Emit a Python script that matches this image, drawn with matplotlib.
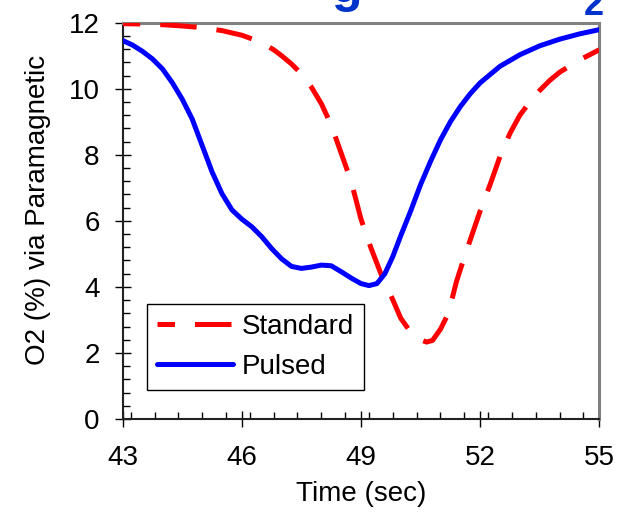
import matplotlib
matplotlib.use('Agg')
import matplotlib.pyplot as plt
from matplotlib.ticker import MultipleLocator

plt.rcParams['font.family'] = ['Liberation Sans', 'DejaVu Sans']

# ---- data ----
time_standard = [43.00, 43.50, 44.00, 44.50, 45.00, 45.50, 46.00, 46.50, 46.80, 47.00,
                 47.25, 47.50, 47.75, 48.00, 48.25, 48.50, 48.75, 49.00, 49.25, 49.50,
                 49.75, 50.00, 50.25, 50.50, 50.65, 50.80, 51.00, 51.20, 51.40, 51.60,
                 51.80, 52.00, 52.25, 52.50, 52.75, 53.00, 53.25, 53.50, 53.75, 54.00,
                 54.50, 55.00]
o2_standard = [11.97, 11.96, 11.94, 11.90, 11.85, 11.76, 11.62, 11.40, 11.18, 11.00,
               10.75, 10.45, 10.05, 9.55, 8.90, 8.05, 7.20, 6.05, 5.18, 4.40,
               3.75, 3.05, 2.63, 2.40, 2.33, 2.38, 2.72, 3.20, 4.15, 4.90,
               5.60, 6.30, 7.10, 7.95, 8.65, 9.20, 9.60, 9.95, 10.25, 10.50,
               10.87, 11.18]

time_pulsed = [43.00, 43.25, 43.50, 43.75, 44.00, 44.25, 44.50, 44.75, 45.00, 45.25,
               45.50, 45.75, 46.00, 46.25, 46.50, 46.75, 47.00, 47.25, 47.50, 47.75,
               48.00, 48.25, 48.50, 48.75, 49.00, 49.20, 49.40, 49.60, 49.80, 50.00,
               50.25, 50.50, 50.75, 51.00, 51.25, 51.50, 51.75, 52.00, 52.50, 53.00,
               53.50, 54.00, 54.50, 55.00]
o2_pulsed = [11.46, 11.32, 11.13, 10.90, 10.60, 10.18, 9.68, 9.08, 8.28, 7.48,
             6.82, 6.33, 6.05, 5.82, 5.52, 5.16, 4.85, 4.62, 4.56, 4.60,
             4.66, 4.64, 4.46, 4.27, 4.10, 4.04, 4.10, 4.40, 4.92, 5.55,
             6.30, 7.10, 7.80, 8.45, 9.00, 9.46, 9.85, 10.18, 10.68, 11.03,
             11.30, 11.50, 11.66, 11.79]

series_labels = ['Standard', 'Pulsed']
x_ticks = [43, 46, 49, 52, 55]
y_ticks = [0, 2, 4, 6, 8, 10, 12]
x_label = 'Time (sec)'
y_label = 'O2 (%) via Paramagnetic'

# ---- figure ----
fig = plt.figure(figsize=(6.32, 5.18), dpi=100)
ax = fig.add_axes([0.1942, 0.1911, 0.7541, 0.7651])

lw = 3.6
l_std, = ax.plot(time_standard, o2_standard, color='#ff0000', lw=lw,
                 linestyle=(3.8, (7.3, 4.0)), dash_capstyle='butt',
                 label=series_labels[0], zorder=3)
l_pul, = ax.plot(time_pulsed, o2_pulsed, color='#0000ff', lw=lw,
                 solid_capstyle='round', solid_joinstyle='round',
                 label=series_labels[1], zorder=4)

ax.set_xlim(x_ticks[0], x_ticks[-1])
ax.set_ylim(y_ticks[0], y_ticks[-1])
ax.set_xticks(x_ticks)
ax.set_yticks(y_ticks)
ax.xaxis.set_minor_locator(MultipleLocator(0.6))
ax.yaxis.set_minor_locator(MultipleLocator(0.4))

ax.tick_params(which='major', direction='inout', length=12, width=1,
               colors='black', labelsize=20)
ax.tick_params(which='minor', direction='in', length=5, width=1, colors='black')
ax.tick_params(axis='x', which='major', pad=12.5)
ax.tick_params(axis='y', which='major', pad=10.7)

for s in ('top', 'right'):
    ax.spines[s].set_color('#808080')
    ax.spines[s].set_linewidth(2.2)
for s in ('left', 'bottom'):
    ax.spines[s].set_color('#222222')
    ax.spines[s].set_linewidth(1.5)

ax.set_xlabel(x_label, fontsize=20)
ax.set_ylabel(y_label, fontsize=20)
ax.xaxis.set_label_coords(0.5, -0.157)
ax.yaxis.set_label_coords(-0.150, 0.527)

leg = ax.legend(handles=[l_std, l_pul], loc='lower left',
                bbox_to_anchor=(0.0504, 0.073), borderaxespad=0,
                fontsize=20, handlelength=2.74, handletextpad=0.29,
                borderpad=0.38, labelspacing=0.48, fancybox=False,
                framealpha=1, edgecolor='black')
leg.get_frame().set_linewidth(1.0)

# cut-off title fragments at the top edge
fig.text(0.549, 0.996, 'g', fontsize=36, fontweight='bold', color='#0033cc',
         ha='center', va='baseline')
fig.text(0.940, 0.971, '2', fontsize=26, fontweight='bold', color='#0033cc',
         ha='center', va='baseline')

fig.savefig('out.png', dpi=100)
